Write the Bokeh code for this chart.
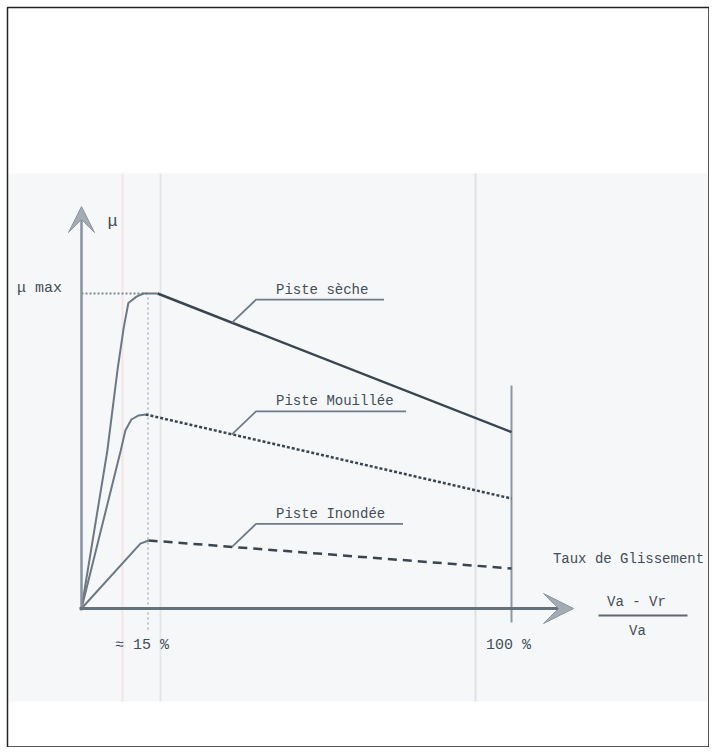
import numpy as np
from bokeh.plotting import figure
from bokeh.models import Range1d, Arrow, VeeHead, Label
from bokeh.embed import file_html
from bokeh.resources import INLINE

# ---------------- data (slip rate in %, friction coefficient mu, mu_max = 1) -------------
seche_x = [0, 6.0, 8.4, 9.8, 10.9, 12.8, 14.4, 17.7, 100]
seche_mu = [0, 0.50, 0.76, 0.89, 0.97, 0.99, 1.0, 1.0, 0.56]
seche_peak = 7  # index of the end of the rising part

mouillee_x = [0, 9.1, 10.2, 11.6, 13.3, 14.9, 100]
mouillee_mu = [0, 0.50, 0.565, 0.60, 0.613, 0.616, 0.349]
mouillee_peak = 5

inondee_x = [0, 13.7, 15.6, 100]
inondee_mu = [0, 0.206, 0.216, 0.127]
inondee_peak = 2

series_names = ["Piste  sèche", "Piste  Mouillée", "Piste  Inondée"]
tick_values = [15, 100]
tick_labels = ["≈ 15 %", "100 %"]
mu_max = 1.0

# ---------------- layout helpers (pixel geometry of the picture) ----------------
W, H = 709, 747
X0, Y0 = 81, 608       # origin in picture pixels
SX, SY = 4.3, 315.0    # pixels per % and per unit mu


def dx(px):
    return px / SX


def dy(px):
    return px / SY


def xd(px):
    return (px - X0) / SX


def yd(py):
    return (Y0 - py) / SY


FONT = "Liberation Mono"
TXT = "#434d58"
INK = "#3b4550"

p = figure(width=W, height=H, output_backend="svg", toolbar_location=None,
           x_range=Range1d(xd(0), xd(W)),
           y_range=Range1d(yd(H), yd(0)),
           x_axis_location=None, y_axis_location=None,
           min_border=0, background_fill_color="white", border_fill_color="white")
p.grid.visible = False
p.outline_line_color = None

# scanned page band
p.quad(left=xd(8), right=xd(760), top=yd(173), bottom=yd(701),
       fill_color="#f6f7f8", line_color=None)
# faint scan fold lines
for fx, fc in [(160, "#e3e7ec"), (475, "#dde2e8"), (122, "#f3e6e4")]:
    p.segment(x0=xd(fx), y0=yd(173), x1=xd(fx), y1=yd(701), line_color=fc, line_width=2)

# page border
p.quad(left=xd(7), right=xd(708.5), top=yd(7), bottom=yd(746.5),
       fill_color=None, line_color="#222222", line_width=1.5)

# axes with arrows
p.add_layout(Arrow(end=VeeHead(size=26, fill_color="#a3acb5", line_color="#8c96a0", line_width=1),
                   x_start=0, y_start=-dy(2), x_end=0, y_end=yd(206),
                   line_color="#8593a0", line_width=2.5))
p.add_layout(Arrow(end=VeeHead(size=30, fill_color="#a3acb5", line_color="#8c96a0", line_width=1),
                   x_start=-dx(2), y_start=0, x_end=xd(573), y_end=0,
                   line_color="#66717c", line_width=3))

# reference lines: mu max, ~15 %, 100 %
peak_x = seche_x[seche_peak]
p.line([0, peak_x - dx(8)], [mu_max, mu_max], line_color="#7f8a95", line_width=2, line_dash="2 2")
p.line([tick_values[0] + dx(2), tick_values[0] + dx(2)], [mu_max - dy(4), -dy(22)],
       line_color="#a9b4bf", line_width=1.5, line_dash="2 3")
p.line([tick_values[1], tick_values[1]], [yd(385), -dy(14)], line_color="#8b97a3", line_width=2)

# curves
def draw(xs, ys, k, dash, width):
    p.line(xs[:k + 1], ys[:k + 1], line_color="#6c7884", line_width=2)
    p.line(xs[k:], ys[k:], line_color=INK, line_width=width, line_dash=dash)


draw(seche_x, seche_mu, seche_peak, "solid", 2.5)
draw(mouillee_x, mouillee_mu, mouillee_peak, "3 2", 2.5)
draw(inondee_x, inondee_mu, inondee_peak, "9 6", 2.5)

# callout labels
for name, xs, ys, ulen in [(series_names[0], seche_x, seche_mu, 128),
                           (series_names[1], mouillee_x, mouillee_mu, 150),
                           (series_names[2], inondee_x, inondee_mu, 147)]:
    cx = 35.0
    cy = float(np.interp(cx, xs, ys))
    ex, ey = cx + dx(24), cy + dy(23)
    p.line([cx, ex, ex + dx(ulen)], [cy, ey, ey], line_color="#6f7b87", line_width=1.8)
    p.add_layout(Label(x=ex + dx(20), y=ey + dy(2), text=name, text_font=FONT,
                       text_font_size="14px", text_color=TXT, text_baseline="bottom"))

# axis texts
p.add_layout(Label(x=xd(39), y=mu_max + dy(5), text="μ max", text_font=FONT, text_font_size="15px",
                   text_color=TXT, text_align="center", text_baseline="middle"))
p.add_layout(Label(x=xd(112), y=yd(221), text="μ", text_font=FONT, text_font_size="17px",
                   text_color=TXT, text_align="center", text_baseline="middle"))
for tv, tl, off in zip(tick_values, tick_labels, [-4, -3]):
    p.add_layout(Label(x=tv + dx(off), y=-dy(37), text=tl, text_font=FONT, text_font_size="15px",
                       text_color=TXT, text_align="center", text_baseline="middle"))

p.add_layout(Label(x=xd(628), y=yd(558), text="Taux de Glissement", text_font=FONT,
                   text_font_size="14px", text_color=TXT, text_align="center", text_baseline="middle"))
p.add_layout(Label(x=xd(636), y=yd(601), text="Va - Vr", text_font=FONT,
                   text_font_size="14px", text_color=TXT, text_align="center", text_baseline="middle"))
p.segment(x0=xd(598), y0=yd(615), x1=xd(687), y1=yd(615), line_color="#5d6873", line_width=2)
p.add_layout(Label(x=xd(637), y=yd(630), text="Va", text_font=FONT,
                   text_font_size="14px", text_color=TXT, text_align="center", text_baseline="middle"))

open("out.html", "w").write(file_html(p, INLINE))
